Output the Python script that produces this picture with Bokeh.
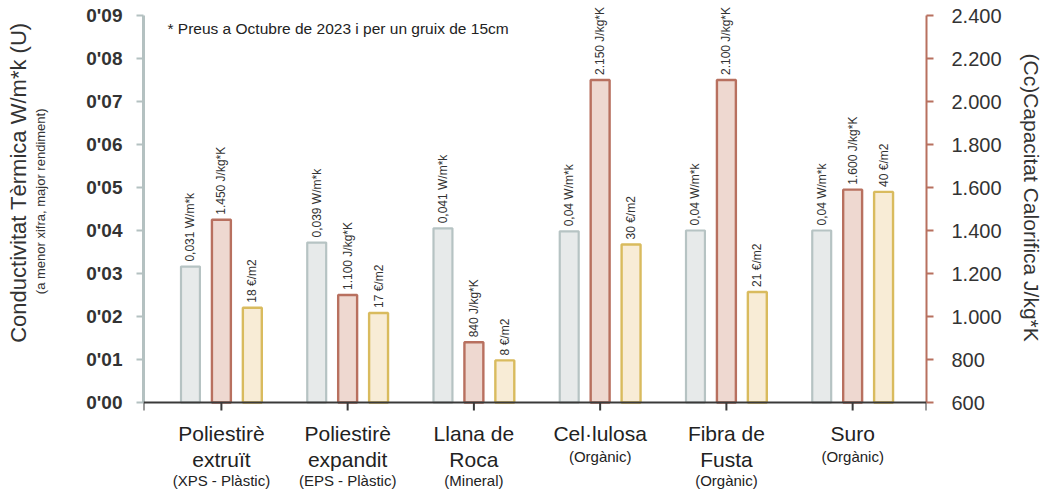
from bokeh.plotting import figure
from bokeh.models import (Range1d, LinearAxis, FixedTicker, CustomJSTickFormatter,
                          ColumnDataSource, Label, Title, Span)
from bokeh.core.properties import value
from bokeh.embed import file_html
from bokeh.resources import INLINE
import math

# ---- data ----
categories = ["Poliestirè\nextruït", "Poliestirè\nexpandit", "Llana de\nRoca",
              "Cel·lulosa", "Fibra de\nFusta", "Suro"]
subcategories = ["(XPS - Plàstic)", "(EPS - Plàstic)", "(Mineral)",
                 "(Orgànic)", "(Orgànic)", "(Orgànic)"]
conductivity = [0.0316, 0.0372, 0.0405, 0.0398, 0.040, 0.040]
conductivity_labels = ["0,031 W/m*k", "0,039 W/m*k", "0,041 W/m*k",
                       "0,04 W/m*k", "0,04 W/m*k", "0,04 W/m*k"]
capacity = [1450, 1100, 880, 2100, 2100, 1590]
capacity_labels = ["1.450 J/kg*K", "1.100 J/kg*K", "840 J/kg*K",
                   "2.150 J/kg*K", "2.100 J/kg*K", "1.600 J/kg*K"]
price = [18, 17, 8, 30, 21, 40]
price_labels = ["18 €/m2", "17 €/m2", "8 €/m2", "30 €/m2", "21 €/m2", "40 €/m2"]
note = "* Preus a Octubre de 2023 i per un gruix de 15cm"

FONT = "Liberation Sans"
cat_x = list(range(1, len(categories) + 1))
OFF = 0.245
BW = 0.15

# axis extents (data) and pixel layout of the frame
U_MAX, C_MIN, C_MAX, P_MAX = 0.09, 600, 2400, 73.5
FRAME_H, ZERO_PX, TOP_PX = 489, 402, 15          # frame height, y of zero, y of axis top


def padded(lo, hi):
    per_px = (hi - lo) / (ZERO_PX - TOP_PX)
    return Range1d(lo - (FRAME_H - ZERO_PX) * per_px, hi + TOP_PX * per_px)


x_range = Range1d(0.383, 6.585)
p = figure(width=1060, height=489, output_backend="svg", toolbar_location=None,
           x_range=x_range, y_range=padded(0, U_MAX),
           min_border_left=143, min_border_right=133, min_border_top=0,
           min_border_bottom=0, outline_line_color=None)
p.extra_y_ranges = {"cap": padded(C_MIN, C_MAX), "price": padded(0, P_MAX)}
p.grid.visible = False
p.xaxis.visible = False

# ---- bars ----
src = ColumnDataSource(dict(
    xg=[x - OFF for x in cat_x], xr=cat_x, xy=[x + OFF for x in cat_x],
    cond=conductivity, cap=capacity, price=price,
    cl=conductivity_labels, capl=capacity_labels, pl=price_labels))

p.vbar(x="xg", top="cond", bottom=0, width=BW, source=src,
       fill_color="#e7eaea", line_color="#b6c3c3", line_width=2.2)
p.vbar(x="xr", top="cap", bottom=C_MIN, width=BW, source=src, y_range_name="cap",
       fill_color="#eed8d0", line_color="#b8705f", line_width=2.4)
p.vbar(x="xy", top="price", bottom=0, width=BW, source=src, y_range_name="price",
       fill_color="#f8ecd6", line_color="#d9bb5e", line_width=2.4)

lab_kw = dict(angle=math.pi / 2, text_align="left", text_baseline="middle",
              text_font=value(FONT), text_font_size="12px", text_color="#333333",
              x_offset=0, y_offset=-5)
p.text(x="xg", y="cond", text="cl", source=src, **lab_kw)
p.text(x="xr", y="cap", text="capl", source=src, y_range_name="cap", **lab_kw)
p.text(x="xy", y="price", text="pl", source=src, y_range_name="price", **lab_kw)

# ---- baseline with ticks ----
p.add_layout(Span(location=0, dimension="width", line_color="#3a3a3a", line_width=2))
tick_x = [x_range.start] + cat_x + [x_range.end]
tick_len = 8 * U_MAX / (ZERO_PX - TOP_PX)
p.segment(x0=tick_x, y0=[0] * len(tick_x), x1=tick_x, y1=[-tick_len] * len(tick_x),
          line_color="#3a3a3a", line_width=2)

# ---- left axis ----
ya = p.yaxis[0]
ya.bounds = (0, U_MAX)
ya.ticker = FixedTicker(ticks=[i / 100 for i in range(10)])
ya.formatter = CustomJSTickFormatter(
    code="return \"0'\" + String(Math.round(tick*100)).padStart(2, '0');")
ya.axis_line_color = "#b4c1c1"
ya.axis_line_width = 3
ya.major_tick_line_color = "#b4c1c1"
ya.major_tick_line_width = 2
ya.major_tick_out = 7
ya.major_tick_in = 0
ya.minor_tick_line_color = None
ya.major_label_text_font = FONT
ya.major_label_text_font_style = "bold"
ya.major_label_text_font_size = "19px"
ya.major_label_text_color = "#333333"
ya.major_label_standoff = 14
ya.axis_label = " "
ya.axis_label_text_font_size = "10px"
ya.axis_label_standoff = 22

p.add_layout(Title(text="(a menor xifra, major rendiment)", align="right",
                   offset=108, text_font=FONT, text_font_size="13px",
                   text_font_style="normal", text_color="#333333",
                   standoff=0), "left")
p.add_layout(Title(text="Conductivitat Tèrmica W/m*k (U)", align="right",
                   offset=22, text_font=FONT, text_font_size="22px",
                   text_font_style="normal", text_color="#333333",
                   standoff=0), "left")

# ---- right axis ----
ra = LinearAxis(y_range_name="cap", bounds=(C_MIN, C_MAX),
                ticker=FixedTicker(ticks=list(range(C_MIN, C_MAX + 1, 200))),
                formatter=CustomJSTickFormatter(code="""
                    if (tick >= 1000) {
                        return Math.floor(tick/1000) + '.' + String(tick % 1000).padStart(3, '0');
                    }
                    return String(tick);"""))
ra.axis_line_color = "#b8705f"
ra.axis_line_width = 2
ra.major_tick_line_color = "#b8705f"
ra.major_tick_line_width = 2
ra.major_tick_out = 7
ra.major_tick_in = 0
ra.minor_tick_line_color = None
ra.major_label_text_font = FONT
ra.major_label_text_font_size = "20px"
ra.major_label_text_color = "#333333"
ra.major_label_standoff = 18
p.add_layout(ra, "right")
p.add_layout(Title(text="(Cc)Capacitat Calorifica J/kg*K", align="left",
                   offset=53, text_font=FONT, text_font_size="21px",
                   text_font_style="normal", text_color="#333333",
                   standoff=31), "right")

# ---- category labels ----
for x, name, sub in zip(cat_x, categories, subcategories):
    n = name.count("\n") + 1
    p.add_layout(Label(x=x, y=0, y_offset=-19, text=name, text_align="center",
                       text_baseline="top", text_font=FONT, text_font_size="21px",
                       text_color="#222222", text_line_height=1.15))
    p.add_layout(Label(x=x, y=0, y_offset=-(19 + n * 24 + 2), text=sub,
                       text_align="center", text_baseline="top", text_font=FONT,
                       text_font_size="15px", text_color="#222222"))

p.add_layout(Label(x=x_range.start + 0.19, y=0.087, text=note, text_align="left",
                   text_baseline="middle", text_font=FONT, text_font_size="15.5px",
                   text_color="#222222"))

open("out.html", "w").write(file_html(p, INLINE))
